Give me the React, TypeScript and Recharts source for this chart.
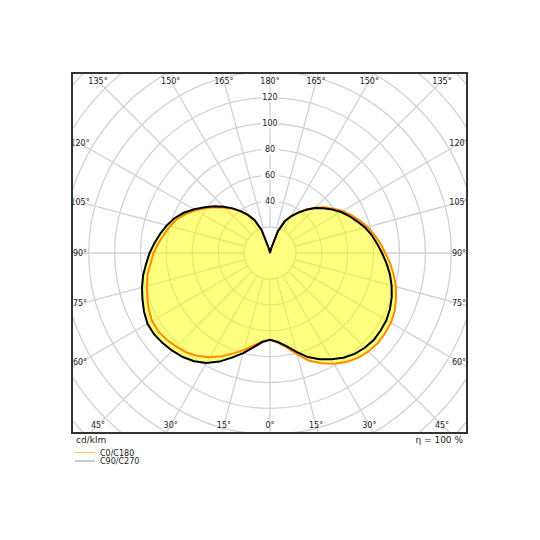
import React from 'react';
import { RadarChart, Radar, PolarGrid, PolarAngleAxis, PolarRadiusAxis } from 'recharts';

// gamma angles (deg from nadir) for each half plane
const gammaAngles = [
  0, 5, 10, 15, 20, 25, 30, 35, 40, 45, 50, 55, 60, 65, 70, 75, 80, 85, 90,
  95, 100, 105, 110, 115, 120, 125, 130, 135, 140, 145, 150, 155, 160, 165, 170, 175, 180,
];

// cd/klm
const c0Values = [
  67, 69.5, 74, 81, 88.5, 94, 98.7, 102.7, 105.7, 107.5, 108.5, 108.3, 107.8, 106.2, 103.5, 100.7, 97, 93.2, 89,
  85.5, 81.7, 78, 73.5, 69.1, 64.8, 59.6, 54.8, 49.5, 44, 38, 33, 27, 18, 4, 1, 0, 0,
];
const c180Values = [
  67, 68.5, 72.5, 77.5, 82.5, 88, 93, 97, 100.3, 102.2, 104.2, 105.3, 105.2, 103.3, 100.8, 98.3, 96, 92.5, 90,
  86.5, 83, 80, 76.5, 71.5, 66, 60.5, 55, 49.5, 44.5, 39, 33.5, 27.5, 18.5, 4, 1, 0, 0,
];
const c90Values = [
  67, 69, 73, 79, 85.5, 90.5, 94.7, 98.7, 101.7, 103.5, 104.5, 104.3, 103.8, 102.2, 100, 97.2, 94, 90.2, 86.5,
  83, 79.7, 76, 71.5, 67.6, 63.3, 58.6, 53.8, 49, 43.5, 38, 33, 27, 18, 4, 1, 0, 0,
];
const c270Values = [
  67, 69, 74, 80, 86, 92.5, 98, 102, 104.8, 106.7, 108.2, 109.3, 109.2, 107.3, 104.8, 102.3, 99.5, 96, 93,
  89.5, 86, 82.5, 78.5, 73.5, 67.5, 61.5, 56, 50.5, 45, 39.5, 34, 28, 19, 4, 1, 0, 0,
];

const spokeTicks = [0, 15, 30, 45, 60, 75, 90, 105, 120, 135, 150, 165, 180, 195, 210, 225, 240, 255, 270, 285, 300, 315, 330, 345];
const ringTicks = [20, 40, 60, 80, 100, 120, 140, 160, 180, 200];
const ringLabels = [40, 60, 80, 100, 120];

// full circle: right half = C0 / C90, left half = C180 / C270
const rows = [
  ...gammaAngles.map((g, i) => ({ angle: g, c0c180: c0Values[i], c90c270: c90Values[i] })),
  ...gammaAngles
    .slice(1, -1)
    .reverse()
    .map((g) => {
      const i = gammaAngles.indexOf(g);
      return { angle: 360 - g, c0c180: c180Values[i], c90c270: c270Values[i] };
    }),
].map((r) => ({
  ...r,
  envelope: Math.max(r.c0c180, r.c90c270),
  hub: ringTicks[0], // innermost ring: spokes start here
}));

const BOX_W = 395;
const BOX_H = 360;
const CX = 198;
const CY = 180;
const OUTER = 272;
const R_MAX = 210;
const INSET = 8;
const GRID = '#d2d2d2';
const FONT = '"DejaVu Sans", sans-serif';

const AngleTick = (props: any) => {
  const v = props.payload.value;
  const rad = (v * Math.PI) / 180;
  const dx = Math.sin(rad);
  const dy = Math.cos(rad);
  const tx = dx > 1e-6 ? (BOX_W - INSET - CX) / dx : dx < -1e-6 ? (CX - INSET) / -dx : Infinity;
  const ty = dy > 1e-6 ? (BOX_H - INSET - CY) / dy : dy < -1e-6 ? (CY - INSET) / -dy : Infinity;
  const t = Math.min(tx, ty);
  const label = v <= 180 ? v : 360 - v;
  return (
    <text
      x={CX + t * dx}
      y={CY + t * dy}
      textAnchor="middle"
      dominantBaseline="central"
      fontSize={8}
      fontFamily={FONT}
      fill="#222"
    >
      {label}°
    </text>
  );
};

const RingTick = (props: any) => {
  const { x, y, payload } = props;
  if (!ringLabels.includes(payload.value)) return <g />;
  return (
    <g>
      <rect x={x - 9} y={y - 5} width={18} height={10} fill="#fff" />
      <text x={x} y={y} textAnchor="middle" dominantBaseline="central" fontSize={8} fontFamily={FONT} fill="#222">
        {payload.value}
      </text>
    </g>
  );
};

export default function App() {
  return (
    <div style={{ position: 'absolute', left: 0, top: 0, width: 540, height: 540, background: '#fff' }}>
      <div style={{ position: 'absolute', left: 72, top: 73, width: BOX_W, height: BOX_H, overflow: 'hidden' }}>
        <RadarChart
          width={BOX_W}
          height={BOX_H}
          data={rows}
          cx={CX}
          cy={CY}
          outerRadius={OUTER}
          startAngle={-90}
          endAngle={270}
          margin={{ top: 0, right: 0, bottom: 0, left: 0 }}
        >
          <PolarGrid gridType="circle" stroke={GRID} strokeWidth={1.3} />
          <PolarAngleAxis
            dataKey="angle"
            type="number"
            domain={[0, 360]}
            ticks={spokeTicks}
            axisLine={false}
            tickLine={false}
            tick={AngleTick}
          />
          <Radar
            dataKey="hub"
            stroke={GRID}
            strokeWidth={1.3}
            fill="#fff"
            fillOpacity={1}
            dot={false}
            legendType="none"
            isAnimationActive={false}
          />
          <Radar
            dataKey="envelope"
            stroke="none"
            fill="#ffff00"
            fillOpacity={0.5}
            dot={false}
            legendType="none"
            isAnimationActive={false}
          />
          <Radar
            name="C0/C180"
            dataKey="c0c180"
            stroke="#ff8c00"
            strokeWidth={2}
            fill="none"
            fillOpacity={0}
            dot={false}
            isAnimationActive={false}
          />
          <Radar
            name="C90/C270"
            dataKey="c90c270"
            stroke="#000"
            strokeWidth={2}
            fill="none"
            fillOpacity={0}
            dot={false}
            isAnimationActive={false}
          />
          <PolarRadiusAxis
            angle={90}
            type="number"
            domain={[0, R_MAX]}
            ticks={ringTicks}
            axisLine={false}
            tickLine={false}
            tick={RingTick}
          />
        </RadarChart>
      </div>
      <div
        style={{
          position: 'absolute',
          left: 71,
          top: 72,
          width: BOX_W + 2,
          height: BOX_H + 2,
          border: '2px solid #333',
          boxSizing: 'border-box',
          pointerEvents: 'none',
        }}
      />
      <svg style={{ position: 'absolute', left: 0, top: 433 }} width={540} height={40}>
        <text x={76} y={10} fontSize={9} fontFamily={FONT} fill="#222">
          cd/klm
        </text>
        <text x={463} y={9.5} fontSize={9} fontFamily={FONT} fill="#222" textAnchor="end">
          η = 100 %
        </text>
        <line x1={75} x2={95} y1={19.5} y2={19.5} stroke="#ffc466" strokeWidth={1} />
        <text x={100} y={22.5} fontSize={8} fontFamily={FONT} fill="#222">
          C0/C180
        </text>
        <line x1={75} x2={95} y1={28} y2={28} stroke="#8a97a3" strokeWidth={1} />
        <text x={100} y={30.5} fontSize={8} fontFamily={FONT} fill="#222">
          C90/C270
        </text>
      </svg>
    </div>
  );
}
